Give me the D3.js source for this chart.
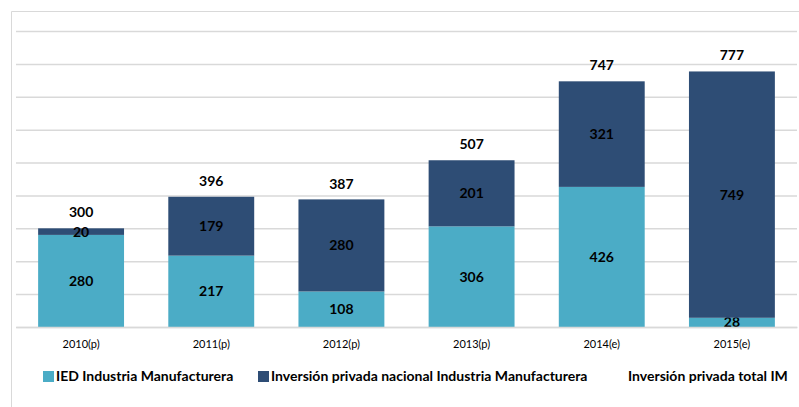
<!DOCTYPE html>
<html>
<head>
<meta charset="utf-8">
<script src="https://cdn.jsdelivr.net/npm/d3@7"></script>
<style>
body { margin: 0; background: #fff; }
svg text { font-family: Lato, "Open Sans", sans-serif; }
</style>
</head>
<body>
<div id="chart"></div>
<script>
// data
var years = ["2010(p)", "2011(p)", "2012(p)", "2013(p)", "2014(e)", "2015(e)"];
var ied = [280, 217, 108, 306, 426, 28];
var nacional = [20, 179, 280, 201, 321, 749];
var total = [300, 396, 387, 507, 747, 777];
var seriesNames = ["IED Industria Manufacturera", "Inversión privada nacional Industria Manufacturera", "Inversión privada total IM"];
var colors = ["#4bacc6", "#2e4d75"];

var W = 799, H = 407;
var margin = {top: 31, right: 2, bottom: 80, left: 16};
var width = W - margin.left - margin.right;
var height = H - margin.top - margin.bottom;

var svg = d3.select("#chart").append("svg")
     .attr("width", W)
     .attr("height", H);

// chart frame
svg.append("path")
     .attr("d", "M11.5," + H + "V11.5H" + W)
     .attr("fill", "none")
     .attr("stroke", "#d9d9d9");

var g = svg.append("g")
     .attr("transform", "translate(" + margin.left + "," + margin.top + ")");

var x = d3.scaleBand().domain(years).range([0, width]).paddingInner(0.34).paddingOuter(0.17);
var y = d3.scaleLinear().domain([0, 900]).range([height, 0]);

// gridlines
g.append("g")
     .call(d3.axisLeft(y).ticks(9).tickSize(-width).tickFormat(""))
     .call(function (a) {
          a.select(".domain").remove();
          a.selectAll("line").attr("stroke", "#d9d9d9").attr("stroke-width", 1.5);
     });

var rows = years.map(function (d, i) {
     return {year: d, ied: ied[i], nacional: nacional[i], total: total[i]};
});
var stack = d3.stack().keys(["ied", "nacional"])(rows);

var layer = g.selectAll(".layer")
     .data(stack)
     .enter().append("g")
     .attr("fill", function (d, i) { return colors[i]; });

layer.selectAll("rect")
     .data(function (d) { return d; })
     .enter().append("rect")
     .attr("x", function (d) { return x(d.data.year); })
     .attr("y", function (d) { return y(d[1]); })
     .attr("width", x.bandwidth())
     .attr("height", function (d) { return y(d[0]) - y(d[1]); });

layer.selectAll("text")
     .data(function (d) { return d; })
     .enter().append("text")
     .attr("x", function (d) { return x(d.data.year) + x.bandwidth() / 2; })
     .attr("y", function (d) { return (y(d[0]) + y(d[1])) / 2; })
     .attr("dy", "0.35em")
     .attr("text-anchor", "middle")
     .attr("fill", "#000")
     .attr("font-size", 14)
     .attr("font-weight", "bold")
     .text(function (d) { return d[1] - d[0]; });

// totals above each bar
g.selectAll(".total")
     .data(rows)
     .enter().append("text")
     .attr("x", function (d) { return x(d.year) + x.bandwidth() / 2; })
     .attr("y", function (d) { return y(d.total) - 16; })
     .attr("dy", "0.35em")
     .attr("text-anchor", "middle")
     .attr("font-size", 14)
     .attr("font-weight", "bold")
     .text(function (d) { return d.total; });

// x axis
g.append("g")
     .attr("transform", "translate(0," + height + ")")
     .call(d3.axisBottom(x).tickSize(0).tickPadding(13))
     .call(function (a) {
          a.select(".domain").attr("stroke", "#d9d9d9").attr("stroke-width", 1.5);
          a.selectAll("text").attr("font-size", 11).attr("fill", "#000")
               .style("font-family", "Lato, sans-serif");
     });

// legend
var legX = [43, 258, 628];
var leg = svg.selectAll(".leg")
     .data(seriesNames)
     .enter().append("g")
     .attr("transform", function (d, i) { return "translate(" + legX[i] + ",376)"; });
leg.filter(function (d, i) { return i < 2; })
     .append("rect")
     .attr("x", 0).attr("y", -5)
     .attr("width", 11).attr("height", 11)
     .attr("fill", function (d, i) { return colors[i]; });
leg.append("text")
     .attr("x", function (d, i) { return i < 2 ? 13 : 0; })
     .attr("dy", "0.35em")
     .attr("font-size", 14)
     .attr("font-weight", "bold")
     .text(function (d) { return d; });
</script>
</body>
</html>
